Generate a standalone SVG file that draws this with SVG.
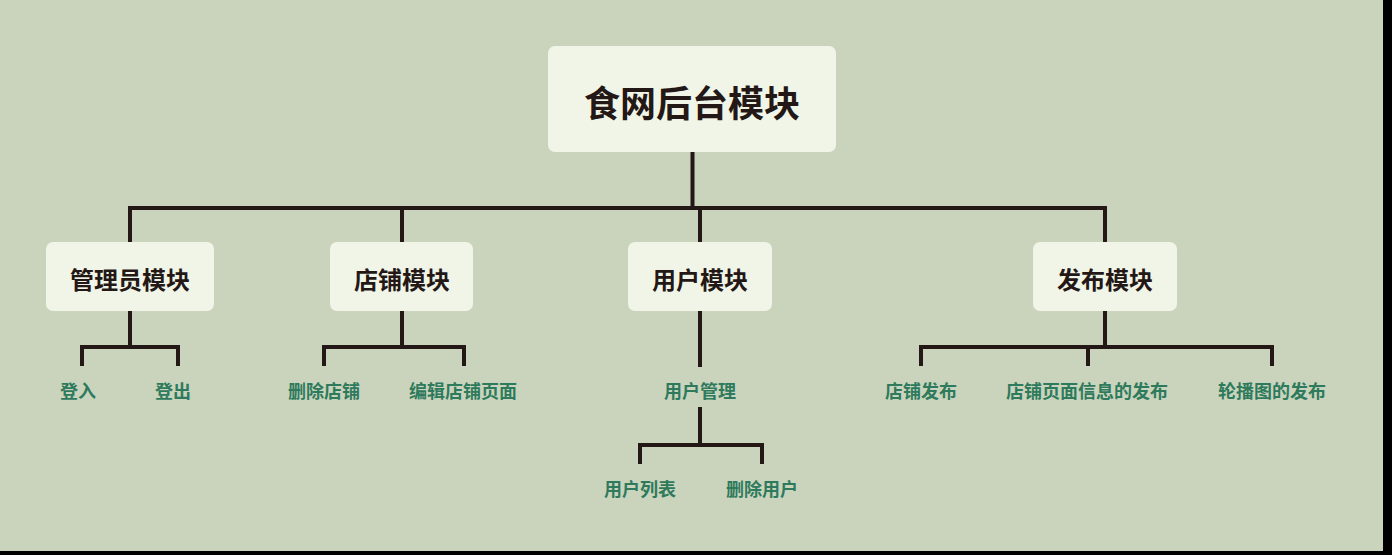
<svg xmlns="http://www.w3.org/2000/svg" width="1392" height="555" viewBox="0 0 1392 555">
  <style>
    .node rect { fill: #f1f5e8; }
    .t { font-family: "Noto Sans CJK SC", "Noto Sans", sans-serif; font-weight: 700; text-anchor: middle; dominant-baseline: central; }
    .root { font-size: 36px; fill: #231815; }
    .mod { font-size: 24px; fill: #231815; }
    .leaf { font-size: 18px; fill: #2e7a5c; }
    .links path { fill: none; stroke: #231815; stroke-width: 4; stroke-linejoin: miter; stroke-linecap: butt; }
  </style>
  <rect x="0" y="0" width="1392" height="555" fill="#000000"/>
  <rect x="0" y="0" width="1383" height="551" fill="#cad4bc"/>

  <g class="links">
    <!-- root to modules -->
    <path d="M692.5 152 V208"/>
    <path d="M130 242 V208 H1105 V242"/>
    <path d="M402 208 V242"/>
    <path d="M700 208 V242"/>
    <!-- admin module -->
    <path d="M130 311 V347"/>
    <path d="M82 366 V347 H178 V366"/>
    <!-- shop module -->
    <path d="M402 311 V347"/>
    <path d="M324 366 V347 H464 V366"/>
    <!-- user module -->
    <path d="M700 311 V367"/>
    <path d="M700 407 V445"/>
    <path d="M640 464 V445 H762 V464"/>
    <!-- publish module -->
    <path d="M1105 311 V347"/>
    <path d="M921 366 V347 H1272 V366"/>
    <path d="M1088 347 V366"/>
  </g>

  <g id="root" class="node">
    <rect x="548" y="46" width="288" height="106" rx="7"/>
    <text class="t root" x="692" y="101">食网后台模块</text>
  </g>

  <g id="admin" class="node">
    <rect x="46" y="242" width="168" height="69" rx="7"/>
    <text class="t mod" x="130" y="278">管理员模块</text>
  </g>
  <g id="shop" class="node">
    <rect x="330" y="242" width="143" height="69" rx="7"/>
    <text class="t mod" x="402" y="278">店铺模块</text>
  </g>
  <g id="user" class="node">
    <rect x="628" y="242" width="144" height="69" rx="7"/>
    <text class="t mod" x="700" y="278">用户模块</text>
  </g>
  <g id="publish" class="node">
    <rect x="1033" y="242" width="144" height="69" rx="7"/>
    <text class="t mod" x="1105" y="278">发布模块</text>
  </g>

  <g id="login"><text class="t leaf" x="78" y="390">登入</text></g>
  <g id="logout"><text class="t leaf" x="173" y="390">登出</text></g>
  <g id="delete-shop"><text class="t leaf" x="324" y="390">删除店铺</text></g>
  <g id="edit-shop-page"><text class="t leaf" x="463" y="390">编辑店铺页面</text></g>
  <g id="user-manage"><text class="t leaf" x="700" y="390">用户管理</text></g>
  <g id="user-list"><text class="t leaf" x="640" y="488">用户列表</text></g>
  <g id="delete-user"><text class="t leaf" x="762" y="488">删除用户</text></g>
  <g id="shop-publish"><text class="t leaf" x="921" y="390">店铺发布</text></g>
  <g id="shop-page-publish"><text class="t leaf" x="1087" y="390">店铺页面信息的发布</text></g>
  <g id="banner-publish"><text class="t leaf" x="1272" y="390">轮播图的发布</text></g>
</svg>
